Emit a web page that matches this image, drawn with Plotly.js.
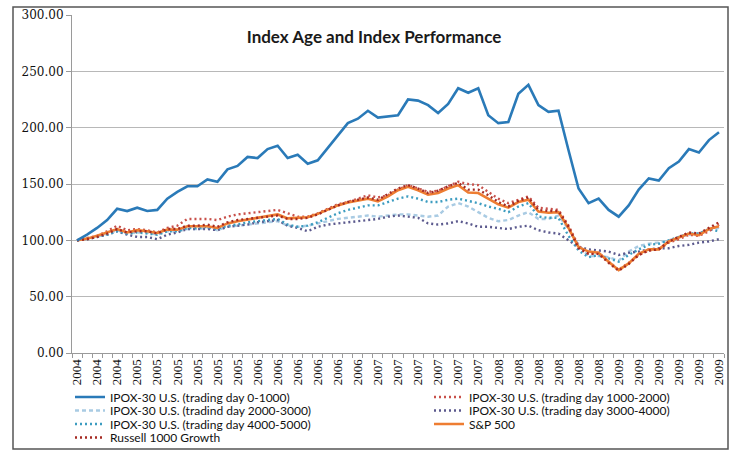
<!DOCTYPE html>
<html>
<head>
<meta charset="utf-8">
<script src="https://cdn.plot.ly/plotly-3.0.1.min.js"></script>
<style>html,body{margin:0;padding:0;background:#fff;}#chart{width:732px;height:451px;}</style>
</head>
<body>
<div id="chart"></div>
<script>
const months = ['Jul-04','Aug-04','Sep-04','Oct-04','Nov-04','Dec-04',
  'Jan-05','Feb-05','Mar-05','Apr-05','May-05','Jun-05','Jul-05','Aug-05','Sep-05','Oct-05','Nov-05','Dec-05',
  'Jan-06','Feb-06','Mar-06','Apr-06','May-06','Jun-06','Jul-06','Aug-06','Sep-06','Oct-06','Nov-06','Dec-06',
  'Jan-07','Feb-07','Mar-07','Apr-07','May-07','Jun-07','Jul-07','Aug-07','Sep-07','Oct-07','Nov-07','Dec-07',
  'Jan-08','Feb-08','Mar-08','Apr-08','May-08','Jun-08','Jul-08','Aug-08','Sep-08','Oct-08','Nov-08','Dec-08',
  'Jan-09','Feb-09','Mar-09','Apr-09','May-09','Jun-09','Jul-09','Aug-09','Sep-09','Oct-09','Nov-09'];
const tickLabels = ['2004','2004','2004','2005','2005','2005','2005','2005','2005',
  '2006','2006','2006','2006','2006','2006','2007','2007','2007','2007','2007','2007',
  '2008','2008','2008','2008','2008','2008','2009','2009','2009','2009','2009','2009'];
const yTicks = [0, 50, 100, 150, 200, 250, 300];

const seriesNames = ['IPOX-30 U.S. (trading day 0-1000)','IPOX-30 U.S. (trading day 1000-2000)',
  'IPOX-30 U.S. (tradind day 2000-3000)','IPOX-30 U.S. (trading day 3000-4000)',
  'IPOX-30 U.S. (trading day 4000-5000)','S&P 500','Russell 1000 Growth'];

const ipox0_1000 = [100,105,111,118,128,126,129,126,127,137,143,148,148,154,152,163,166,174,173,181,184,173,176,168,171,182,194,204,208,215,209,210,211,225,224,220,213,221,235,231,235,211,204,205,230,238,220,214,215,180,146,133,137,127,121,131,145,155,153,164,170,181,178,189,196];
const ipox1000_2000 = [100,102,104,108,113,109,110,109,107,111,113,119,119,119,118,121,123,124,125,126,127,124,121,121,124,128,132,134,137,140,138,140,145,149,146,143,144,148,152,150,149,143,137,133,136,139,129,128,127,113,95,88,89,81,74,80,87,91,92,98,101,105,104,108,114];
const ipox2000_3000 = [100,101,103,106,109,106,107,107,105,108,108,110,110,111,109,112,113,114,115,116,117,113,112,113,115,117,119,120,121,122,121,122,123,123,122,121,122,130,133,130,125,120,117,118,122,125,119,119,122,110,96,86,86,85,82,90,95,97,98,100,103,105,106,109,111];
const ipox3000_4000 = [100,102,103,105,108,105,103,103,101,105,107,110,110,110,109,112,113,114,116,117,118,113,111,108,112,114,115,116,117,118,119,121,122,121,120,115,114,115,117,115,112,112,111,110,112,113,109,107,106,100,94,92,91,90,87,89,90,92,93,93,95,96,98,99,101];
const ipox4000_5000 = [100,101,103,105,108,106,107,106,105,108,108,111,111,112,110,113,114,116,117,118,119,114,112,113,116,120,124,127,129,131,131,134,137,139,137,134,134,136,137,135,133,130,128,125,130,133,121,120,120,104,91,85,87,84,81,87,92,96,97,100,103,106,106,110,108];
const sp500 = [100,101.5,104,107,110,107,109,108,106.5,109.5,109.5,112.5,112.5,112.5,111,115,117,118.5,119.5,121,123,119.5,120,120.5,123.5,127,131,133.5,135.5,137,134.5,139,144.5,147.5,144.5,140.5,142,146,149,142.5,142,137,132,129,134,136,125.5,124.5,125,111,94,90,89,81,73.5,79.5,88,92,92,99,102.5,106,104.5,110,112.5];
const russell1000g = [100,101,103,106,110,107,108,108,106,110,110,113,113,114,112,116,118,119,120,121,122,119,119,120,123,127,131,134,136,138,136,141,146,149,146,142,144,148,151,145,145,140,134,130,135,138,127,126,126,112,93,88,88,80,73,79,87,91,92,99,103,107,106,111,116];

const xIdx = months.map((m, i) => i);
const tickIdx = xIdx.filter(i => i % 2 === 0);

const seriesValues = [ipox0_1000, ipox1000_2000, ipox2000_3000, ipox3000_4000, ipox4000_5000, sp500, russell1000g];
const styles = [
  {color:'#2A7AB8', width:2.6, dash:'solid'},
  {color:'#C8504A', width:2.4, dash:'2px,3px'},
  {color:'#A9CBE3', width:2.4, dash:'4px,3px'},
  {color:'#5C5A8E', width:2.4, dash:'2px,3px'},
  {color:'#3C9CC0', width:2.4, dash:'2px,3px'},
  {color:'#EE7D32', width:2.6, dash:'solid'},
  {color:'#A52A22', width:2.4, dash:'2px,3px'}
];
const legendIds = ['legend','legend2','legend3','legend4','legend5','legend6','legend7'];
const drawOrder = [2,3,4,1,5,6,0];
const traces = drawOrder.map(k => ({
  type:'scatter', mode:'lines', name: seriesNames[k], x: xIdx, y: seriesValues[k],
  line: styles[k], legend: legendIds[k], hoverinfo:'skip'
}));

const legendRows = [397, 397, 410.5, 410.5, 424, 424, 437.5];
const legendCols = [70, 429, 70, 429, 70, 429, 70];
const layout = {
  width:732, height:451,
  margin:{l:72, r:8, t:15, b:98, autoexpand:false},
  paper_bgcolor:'#ffffff', plot_bgcolor:'#ffffff',
  title:{text:'<b>Index Age and Index Performance</b>', font:{family:'Lato, Open Sans, sans-serif', size:17, color:'#1a1a1a'},
    xref:'container', yref:'container', x:374/732, y:1-37/451, xanchor:'center', yanchor:'middle'},
  xaxis:{type:'linear', range:[-0.5, 64.5], tickmode:'array', tickvals:tickIdx, ticktext:tickLabels,
    tickangle:-90, ticks:'', showgrid:false, zeroline:false, showline:true, linecolor:'#9a9a9a', linewidth:1,
    tickfont:{family:'Liberation Serif, Times New Roman, serif', size:13, color:'#111'},
    minor:{tickmode:'linear', tick0:-0.5, dtick:1, ticks:'outside', ticklen:4, tickcolor:'#9a9a9a', showgrid:false},
    fixedrange:true},
  yaxis:{range:[0,300], tickmode:'array', tickvals:yTicks, tickformat:'.2f', ticks:'outside', ticklen:5, tickcolor:'#9a9a9a',
    showgrid:true, gridcolor:'#b8b8b8', gridwidth:1, zeroline:false, showline:true, linecolor:'#9a9a9a', linewidth:1,
    tickfont:{family:'DejaVu Serif, serif', size:12, color:'#111'}, fixedrange:true},
  shapes:[{type:'rect', xref:'paper', yref:'paper', x0:(13-72)/652, x1:(728-72)/652, y0:(353-449)/338, y1:(353-7)/338,
    line:{color:'#555', width:1.5}, fillcolor:'rgba(0,0,0,0)', layer:'below'}],
  showlegend:true
};
legendIds.forEach((id, k) => {
  layout[id] = {xref:'container', yref:'container', x:legendCols[k]/732, y:1-legendRows[k]/451,
    xanchor:'left', yanchor:'middle', bgcolor:'rgba(0,0,0,0)', borderwidth:0,
    font:{family:'Lato, Open Sans, sans-serif', size:12, color:'#111'}, orientation:'v', itemwidth:30};
});

Plotly.newPlot('chart', traces, layout, {staticPlot:true, displayModeBar:false});
</script>
</body>
</html>
